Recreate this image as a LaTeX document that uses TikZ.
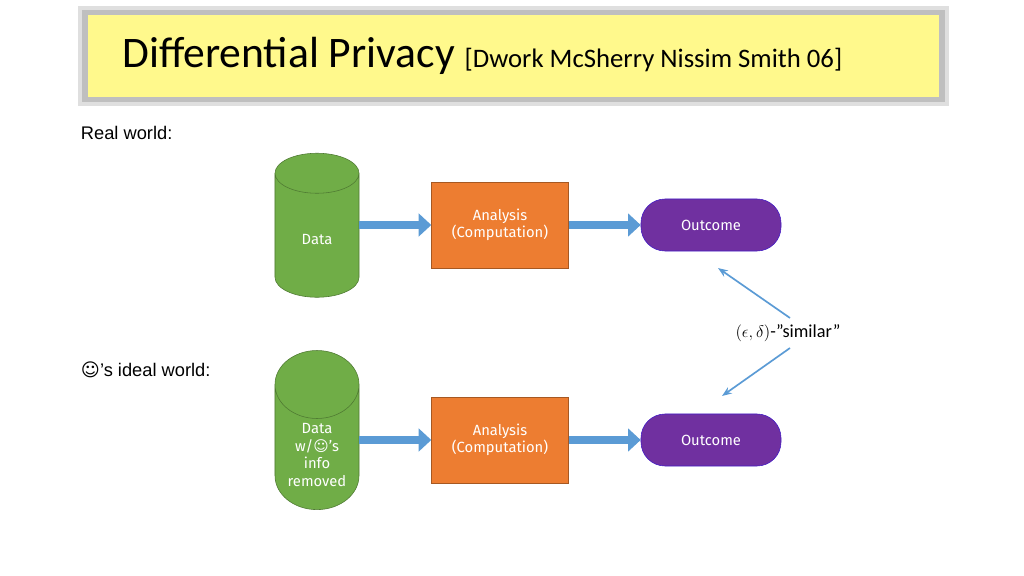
\documentclass[tikz,border=0pt]{standalone}
\usepackage{fontspec}
\setmainfont{Carlito}
\newfontfamily\labelfont{Liberation Sans}
\newfontfamily\boxfont{Fira Sans}
\newfontfamily\symfont{DejaVu Sans}
\usetikzlibrary{shapes.geometric,arrows.meta,positioning}
\definecolor{dbgreen}{HTML}{70AD47}
\definecolor{anorange}{HTML}{ED7D31}
\definecolor{outpurple}{HTML}{7030A0}
\definecolor{flowblue}{HTML}{5B9BD5}
\tikzset{
  db/.style={cylinder,shape border rotate=90,aspect=1.0,draw=dbgreen!70!black,fill=dbgreen,
    minimum width=2.1cm,minimum height=3.6cm,text=white,font=\boxfont\fontsize{10.5}{12.5}\selectfont,align=center},
  analysis/.style={draw=anorange!70!black,fill=anorange,minimum width=3.42cm,minimum height=2.15cm,
    text=white,font=\boxfont\fontsize{10.5}{12.5}\selectfont,align=center},
  outcome/.style={rounded corners=0.6cm,draw=outpurple!60!blue,fill=outpurple,minimum width=3.5cm,
    minimum height=1.3cm,text=white,font=\boxfont\fontsize{10.5}{12.5}\selectfont},
  flow/.style={line width=6pt,draw=flowblue,-{Triangle[length=9pt,width=16pt]}},
  pointer/.style={line width=1.2pt,draw=flowblue,-{Stealth[length=7pt]}}
}
\begin{document}
\begin{tikzpicture}[x=0.025cm,y=-0.025cm]
  \useasboundingbox (0,0) rectangle (1024,576);
  % title bar
  \fill[gray!25] (78,6) rectangle (949,106);
  \fill[gray!50] (82,10) rectangle (945,102);
  \fill[yellow!45] (88,15) rectangle (939,97);
  \node[anchor=base west,inner sep=0pt,font=\fontsize{31}{36}\selectfont] (title) at (122,68)
    {Differential Privacy \fontsize{19}{22}\selectfont[Dwork McSherry Nissim Smith 06]};

  \node[anchor=west,font=\labelfont\fontsize{13}{16}\selectfont] (real) at (76,133) {Real world:};
  \node[anchor=west,font=\labelfont\fontsize{13}{16}\selectfont] (ideal) at (76,370)
    {{\symfont ☺}’s ideal world:};

  % real world
  \node[db] (data) at (317,240) {Data};
  \node[analysis] (comp) at (500,225) {Analysis\\(Computation)};
  \node[outcome] (out) at (711,225) {Outcome};
  \draw[flow] (data.east |- comp) -- (comp);
  \draw[flow] (comp) -- (out);

  % ideal world
  \node[db] (data2) at (317,455) {Data\\w/{\symfont ☺}’s\\info\\removed};
  \node[analysis] (comp2) at (500,440) {Analysis\\(Computation)};
  \node[outcome] (out2) at (711,440) {Outcome};
  \draw[flow] (data2.east |- comp2) -- (comp2);
  \draw[flow] (comp2) -- (out2);

  % similarity
  \node[font=\fontsize{13}{16}\selectfont] (sim) at (788,333) {$(\epsilon,\delta)$-”similar”};
  \coordinate (up) at (718,268);
  \coordinate (down) at (722,396);
  \draw[pointer] (790,318) -- (up);
  \draw[pointer] (790,348) -- (down);
\end{tikzpicture}
\end{document}
